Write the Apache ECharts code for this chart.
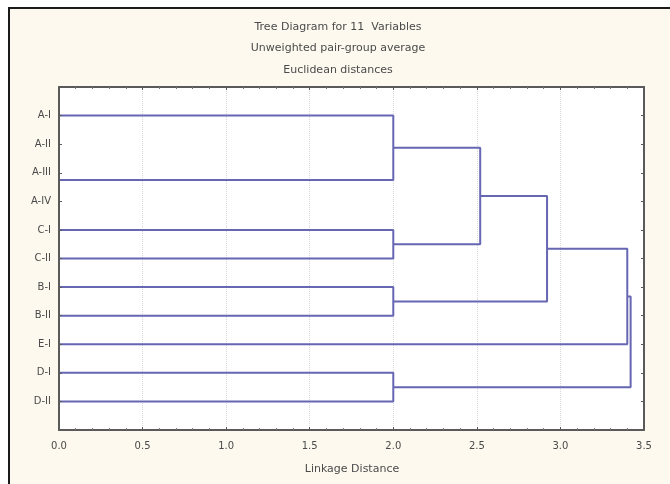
<!DOCTYPE html>
<html>
<head>
<meta charset="utf-8">
<script src="https://cdn.jsdelivr.net/npm/echarts@6/dist/echarts.min.js"></script>
<style>
html,body{margin:0;padding:0;background:#fff;}
#c{width:670px;height:484px;}
</style>
</head>
<body>
<div id="c"></div>
<script>
// ---- data ----
var titleLines = ['Tree Diagram for 11  Variables', 'Unweighted pair-group average', 'Euclidean distances'];
var xAxisName = 'Linkage Distance';
var leaves = ['A-I', 'A-II', 'A-III', 'A-IV', 'C-I', 'C-II', 'B-I', 'B-II', 'E-I', 'D-I', 'D-II'];
// merges: merge k joins node mergeLeft[k] and mergeRight[k] at linkage distance mergeDist[k]
// nodes 0..10 are the leaves, merge k creates node 11+k
var mergeLeft  = [1, 11, 0, 4, 13, 6, 15, 17, 9, 18];
var mergeRight = [2, 3, 12, 5, 14, 7, 16, 8, 10, 19];
var mergeDist  = [0.0, 0.0, 2.0, 2.0, 2.52, 2.0, 2.92, 3.40, 2.0, 3.42];
var xTicks = [0, 0.5, 1.0, 1.5, 2.0, 2.5, 3.0, 3.5];

// ---- build dendrogram segments ----
var nodePos = [], nodeH = [];
for (var i = 0; i < leaves.length; i++) { nodePos.push(i + 1); nodeH.push(0); }
var segs = [];
for (var k = 0; k < mergeDist.length; k++) {
  var a = mergeLeft[k], b = mergeRight[k], h = mergeDist[k];
  segs.push([[nodeH[a], nodePos[a]], [h, nodePos[a]], [h, nodePos[b]], [nodeH[b], nodePos[b]]]);
  nodePos.push((nodePos[a] + nodePos[b]) / 2);
  nodeH.push(h);
}

var lineColor = '#6666b3';
var series = segs.map(function (s) {
  return {
    type: 'line', data: s, symbol: 'none', animation: false, silent: true, z: 2,
    lineStyle: { color: lineColor, width: 2 }, xAxisIndex: 0, yAxisIndex: 0
  };
});

var FONT = 'DejaVu Sans';
var txt = '#4a4a4a';
var axisColor = '#5a5a5a';
function mkAxisLine() { return { show: true, onZero: false, lineStyle: { color: axisColor, width: 2 } }; }
function mkTick() { return { show: true, inside: true, length: 3, lineStyle: { color: axisColor } }; }

var chart = echarts.init(document.getElementById('c'), null, { renderer: 'canvas' });
chart.setOption({
  backgroundColor: '#ffffff',
  graphic: [
    { type: 'rect', z: -10, shape: { x: 9, y: 8, width: 700, height: 520 },
      style: { fill: '#fdf9ef', stroke: '#1a1a1a', lineWidth: 2 } },
    { type: 'rect', z: -9, shape: { x: 59, y: 87, width: 585, height: 343 },
      style: { fill: '#ffffff' } }
  ].concat(titleLines.map(function (t, i) {
    return { type: 'text', x: 338, y: 27 + i * 21.5, z: 10,
      style: { text: t, font: '11px "' + FONT + '"', fill: txt, align: 'center', verticalAlign: 'middle' } };
  })).concat([
    { type: 'text', z: 10, x: 352, y: 469,
      style: { text: xAxisName, font: '11px "' + FONT + '"', fill: txt, align: 'center', verticalAlign: 'middle' } }
  ]),
  grid: { left: 59, right: 26, top: 87, bottom: 54, containLabel: false },
  xAxis: [{
    type: 'value', min: 0, max: 3.5, interval: 0.5, position: 'bottom',
    axisLine: mkAxisLine(), axisTick: mkTick(),
    minorTick: { show: true, splitNumber: 5, length: 2, lineStyle: { color: '#777' } },
    axisLabel: { color: txt, fontFamily: FONT, fontSize: 10, margin: 11,
      formatter: function (v) { return xTicks.indexOf(v) >= 0 ? v.toFixed(1) : ''; } },
    splitLine: { show: true, lineStyle: { color: '#d8d8d8', type: 'dotted', width: 1 } }
  }, {
    type: 'value', min: 0, max: 3.5, interval: 0.5, position: 'top',
    axisLine: mkAxisLine(), axisTick: mkTick(),
    minorTick: { show: true, splitNumber: 5, length: 2, lineStyle: { color: '#777' } },
    axisLabel: { show: false }, splitLine: { show: false }
  }],
  yAxis: [{
    type: 'value', min: 0, max: 12, interval: 1, inverse: true, position: 'left', z: 5,
    axisLine: mkAxisLine(), axisTick: mkTick(),
    axisLabel: { color: txt, fontFamily: FONT, fontSize: 10, margin: 8,
      formatter: function (v) { return (v >= 1 && v <= leaves.length) ? leaves[v - 1] : ''; } },
    splitLine: { show: false }
  }, {
    type: 'value', min: 0, max: 12, interval: 1, inverse: true, position: 'right',
    axisLine: mkAxisLine(), axisTick: mkTick(),
    axisLabel: { show: false }, splitLine: { show: false }
  }],
  series: series
});
</script>
</body>
</html>
